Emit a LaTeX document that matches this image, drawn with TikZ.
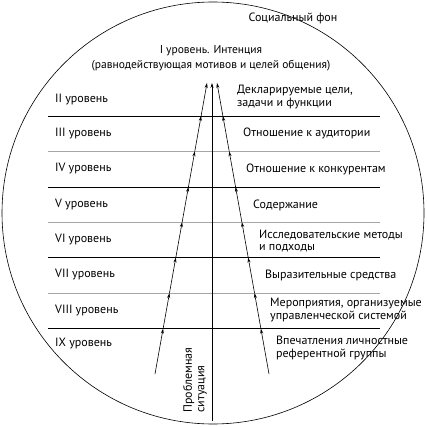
\documentclass[tikz,border=0pt]{standalone}
\usepackage{fontspec}
\setmainfont{PT Sans}
\usetikzlibrary{calc}
\usetikzlibrary{arrows.meta}

\tikzset{
  lvlline/.style={line width=0.8pt},
  flow/.style={line width=0.6pt, -{Stealth[length=5pt,width=3pt]}},
  lbl/.style={inner sep=0pt, font=\fontsize{12}{12.5}\selectfont, align=left},
}

\begin{document}
\begin{tikzpicture}[x=1pt,y=-1pt]
  \useasboundingbox (0,0) rectangle (426,427);

  % social background
  \draw[line width=0.6pt] (213,213) circle (211pt);
  \node[lbl] (fon) at (293,18) {Социальный фон};

  % level lines
  \foreach \y/\c [count=\i] in {116/black,151.5/black!35,187/black,222/black!35,257.5/black,293/black!35,328.5/black}
    \draw[lvlline,\c] (48,\y) coordinate (h\i) -- (380,\y);

  % intention
  \node[lbl, align=center, font=\fontsize{11.5}{15}\selectfont] (intent) at (211,58)
    {I уровень. Интенция\\(равнодействующая мотивов и целей общения)};

  % level names
  \foreach \n/\y [count=\i] in {II/100,III/134,IV/169,V/205,VI/240,VII/275,VIII/311,IX/344}
    \node[lbl, anchor=west] (lv\i) at (55,\y) {\n\ уровень};

  % flows
  \coordinate (Lb) at (155,374);
  \coordinate (Lt) at (207,83);
  \coordinate (Rb) at (269,374);
  \coordinate (Rt) at (217,83);
  \coordinate (Cb) at (212,421);
  \coordinate (Ct) at (212,83);
  \draw[flow] (Cb) -- (Ct);
  \foreach \p [remember=\p as \q (initially 0)] in {0.156,0.278,0.4,0.522,0.643,0.765,0.887,1} {
    \draw[flow] ($(Lb)!\q!(Lt)$) -- ($(Lb)!\p!(Lt)$);
    \draw[flow] ($(Rb)!\q!(Rt)$) -- ($(Rb)!\p!(Rt)$);
  }

  % right side
  \node[lbl, anchor=west] (goal) at (237,97) {Декларируемые цели,\\задачи и функции};
  \node[lbl, anchor=west] (aud) at (243,133) {Отношение к аудитории};
  \node[lbl, anchor=west] (conc) at (246,169) {Отношение к конкурентам};
  \node[lbl, anchor=west] (cont) at (253,205) {Содержание};
  \node[lbl, anchor=west] (meth) at (259,241) {Исследовательские методы\\и подходы};
  \node[lbl, anchor=west] (expr) at (265,275) {Выразительные средства};
  \node[lbl, anchor=west] (event) at (270,310) {Мероприятия, организуемые\\управленческой системой};
  \node[lbl, anchor=west] (impr) at (276,348) {Впечатления личностные\\референтной группы};

  % problem situation
  \node[lbl, rotate=90] (prob) at (195,380) {Проблемная\\ситуация};
\end{tikzpicture}
\end{document}
